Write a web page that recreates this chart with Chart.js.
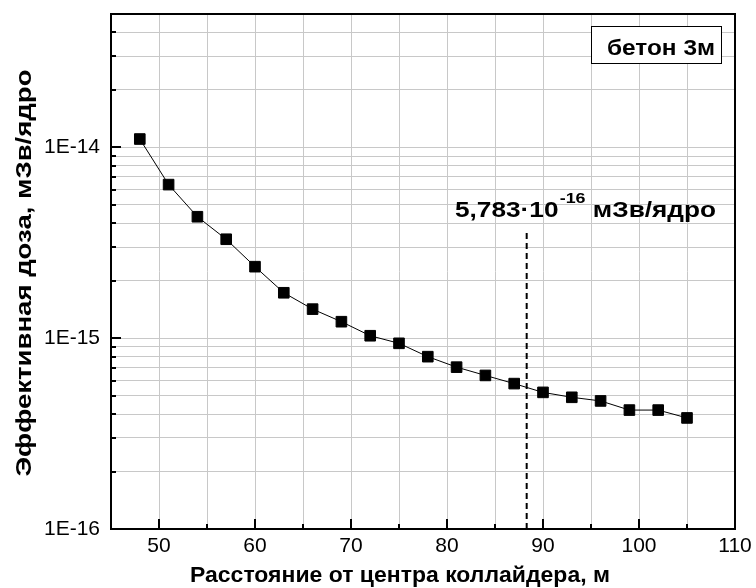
<!DOCTYPE html>
<html>
<head>
<meta charset="utf-8">
<script src="https://cdn.jsdelivr.net/npm/chart.js@4.4.0/dist/chart.umd.min.js"></script>
<style>
    html, body { margin: 0; padding: 0; background: #fff; }
    #wrap { width: 756px; height: 588px; }
</style>
</head>
<body>
<div id="wrap"><canvas id="doseChart"></canvas></div>
<script>
// расстояние от центра коллайдера, м
const distances = [48, 51, 54, 57, 60, 63, 66, 69, 72, 75, 78, 81, 84, 87, 90, 93, 96, 99, 102, 105];
// эффективная доза, мЗв/ядро
const doses = [1.106e-14, 6.38e-15, 4.33e-15, 3.30e-15, 2.37e-15, 1.73e-15, 1.42e-15, 1.22e-15, 1.03e-15, 9.4e-16,
               8.0e-16, 7.05e-16, 6.38e-16, 5.78e-16, 5.2e-16, 4.9e-16, 4.69e-16, 4.2e-16, 4.2e-16, 3.82e-16];
// вертикальная пунктирная линия
const markerX = [88.3, 88.3];
const markerY = [1e-16, 3.7e-15];
const markerLabel = ['5,783\u00B710', '-16', ' мЗв/ядро'];
const legendLabel = 'бетон 3м';
const xTitle = 'Расстояние от центра коллайдера, м';
const yTitle = 'Эффективная доза, мЗв/ядро';
// оси
const xRange = [45, 110];
const yRange = [1e-16, 5e-14];
const yExponents = [-16, -15, -14];

const FONT = 'Arial, "Liberation Sans", sans-serif';
Chart.defaults.font.family = FONT;
Chart.defaults.color = '#000';

// жирный текст в оригинале шире, чем Liberation Sans -> растягиваем по ширине
function stretchedText(ctx, parts, x, y, width, align, angle) {
    let natural = 0;
    parts.forEach(p => { ctx.font = p.font; natural += ctx.measureText(p.text).width + (p.gap || 0); });
    const k = width / natural;
    ctx.save();
    ctx.translate(x, y);
    if (angle) ctx.rotate(angle);
    ctx.scale(k, 1);
    let cx = align === 'center' ? -natural / 2 : align === 'right' ? -natural : 0;
    ctx.textAlign = 'left';
    ctx.textBaseline = 'alphabetic';
    parts.forEach(p => {
        ctx.font = p.font;
        ctx.fillText(p.text, cx, -(p.rise || 0));
        cx += ctx.measureText(p.text).width + (p.gap || 0);
    });
    ctx.restore();
}

const framePlugin = {
    id: 'frame',
    afterDatasetsDraw(chart) {
        const { ctx, chartArea: a, scales: { x, y } } = chart;
        ctx.save();
        ctx.strokeStyle = '#000';
        ctx.lineWidth = 2;
        ctx.strokeRect(a.left, a.top, a.right - a.left, a.bottom - a.top);

        // засечки внутрь
        ctx.beginPath();
        y.ticks.forEach(t => {
            const py = Math.round(y.getPixelForValue(t.value));
            const len = t.major ? 10 : 5;
            ctx.moveTo(a.left, py);
            ctx.lineTo(a.left + len, py);
        });
        x.ticks.forEach(t => {
            const px = Math.round(x.getPixelForValue(t.value));
            const len = t.value % 10 === 0 ? 10 : 5;
            ctx.moveTo(px, a.bottom);
            ctx.lineTo(px, a.bottom - len);
        });
        ctx.stroke();
        ctx.restore();
    },
    afterDraw(chart) {
        const { ctx } = chart;
        ctx.save();
        ctx.fillStyle = '#000';

        // подпись значения
        stretchedText(ctx, [
            { text: markerLabel[0], font: 'bold 22px ' + FONT, gap: 1 },
            { text: markerLabel[1], font: 'bold 15px ' + FONT, rise: 14 },
            { text: markerLabel[2], font: 'bold 22px ' + FONT }
        ], 455, 216.5, 261, 'left');

        // легенда
        ctx.fillStyle = '#fff';
        ctx.fillRect(591, 26, 130, 37);
        ctx.strokeStyle = '#000';
        ctx.lineWidth = 1;
        ctx.strokeRect(591.5, 26.5, 130, 37);
        ctx.fillStyle = '#000';
        stretchedText(ctx, [{ text: legendLabel, font: 'bold 22px ' + FONT }], 715, 55, 108, 'right');

        // подписи осей
        stretchedText(ctx, [{ text: xTitle, font: 'bold 22px ' + FONT }], 400, 581.5, 420, 'center');
        stretchedText(ctx, [{ text: yTitle, font: 'bold 22px ' + FONT }], 31, 273, 407, 'center', -Math.PI / 2);
        ctx.restore();
    }
};

new Chart(document.getElementById('doseChart'), {
    type: 'scatter',
    data: {
        datasets: [{
            data: distances.map((d, i) => ({ x: d, y: doses[i] })),
            showLine: true,
            borderColor: '#000',
            borderWidth: 1,
            backgroundColor: '#000',
            pointStyle: 'rect',
            pointRadius: 7.5,
            pointBorderWidth: 1,
            pointBorderColor: '#000',
            pointBackgroundColor: '#000'
        }, {
            data: markerX.map((d, i) => ({ x: d, y: markerY[i] })),
            showLine: true,
            borderColor: '#000',
            borderWidth: 2,
            borderDash: [6, 4],
            pointRadius: 0
        }]
    },
    options: {
        responsive: true,
        maintainAspectRatio: false,
        animation: false,
        layout: { padding: { top: 14, right: 21, left: 0, bottom: 0 } },
        plugins: {
            legend: { display: false },
            tooltip: { enabled: false }
        },
        scales: {
            x: {
                type: 'linear',
                min: xRange[0],
                max: xRange[1],
                afterFit: s => {
                    s.height = 59;
                    s.paddingLeft = s.paddingRight = s.paddingTop = s.paddingBottom = 0;
                },
                grid: { color: '#c8c8c8', lineWidth: 1, drawTicks: false },
                border: { display: false },
                ticks: {
                    stepSize: 5,
                    padding: 5,
                    maxRotation: 0,
                    autoSkip: false,
                    font: { size: 21 },
                    callback: v => (v % 10 === 0 ? String(v) : '')
                }
            },
            y: {
                type: 'logarithmic',
                min: yRange[0],
                max: yRange[1],
                afterFit: s => {
                    s.width = 111;
                    s.paddingLeft = s.paddingRight = s.paddingTop = s.paddingBottom = 0;
                },
                afterBuildTicks: s => {
                    const ticks = [];
                    yExponents.forEach(e => {
                        for (let m = 1; m <= 9; m++) {
                            const v = m * Math.pow(10, e);
                            if (v <= yRange[1] * 1.0001) ticks.push({ value: v, major: m === 1 });
                        }
                    });
                    s.ticks = ticks;
                },
                grid: { color: '#c8c8c8', lineWidth: 1, drawTicks: false },
                border: { display: false },
                ticks: {
                    padding: 11,
                    autoSkip: false,
                    font: { size: 21 },
                    callback: v => {
                        const e = Math.round(Math.log10(v));
                        return Math.abs(v / Math.pow(10, e) - 1) < 1e-6 ? '1E' + e : '';
                    }
                }
            }
        }
    },
    plugins: [framePlugin]
});
</script>
</body>
</html>
